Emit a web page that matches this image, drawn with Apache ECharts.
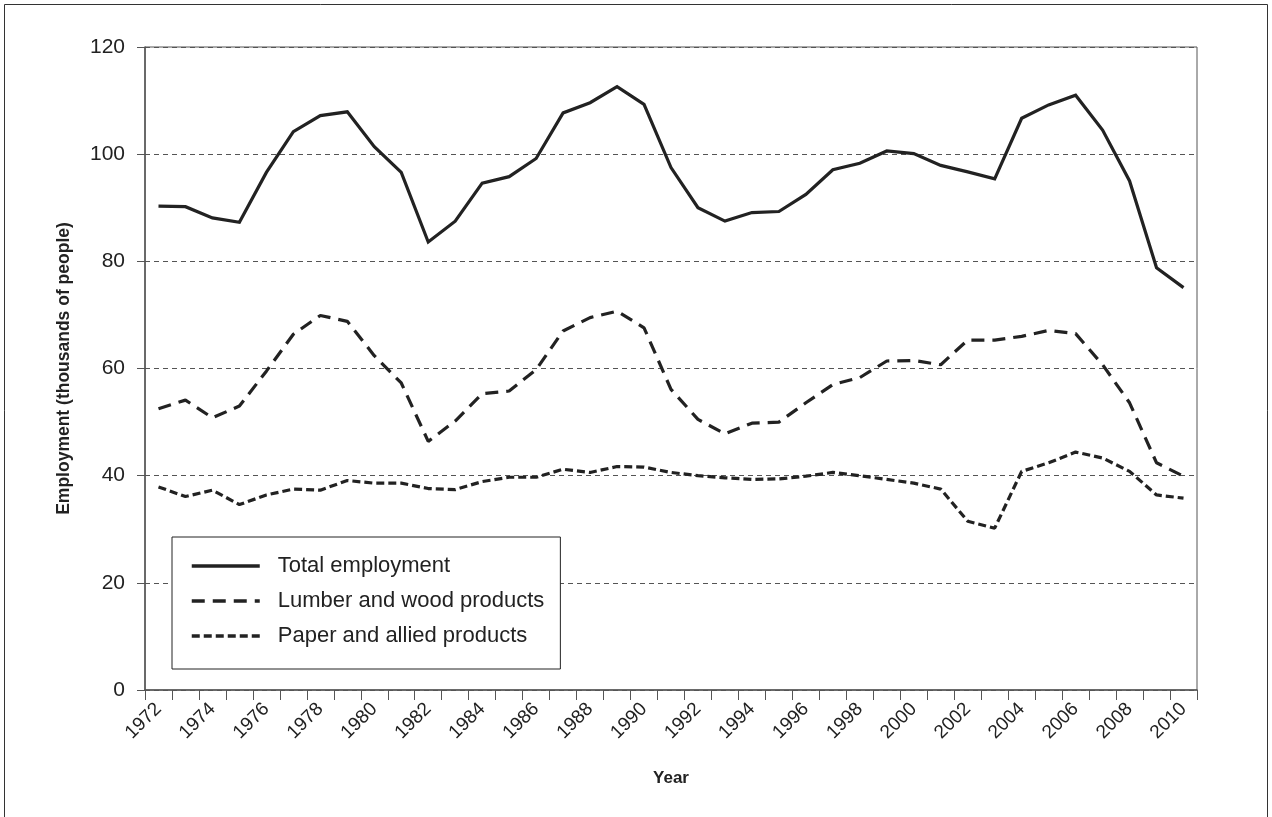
<!DOCTYPE html>
<html>
<head>
<meta charset="utf-8">
<script src="https://cdn.jsdelivr.net/npm/echarts@6/dist/echarts.min.js"></script>
<style>
html,body{margin:0;padding:0;background:#fff;}
#chart{width:1272px;height:817px;}
</style>
</head>
<body>
<div id="chart"></div>
<script>
var years = ['1972','1973','1974','1975','1976','1977','1978','1979','1980','1981','1982','1983','1984','1985','1986','1987','1988','1989','1990','1991','1992','1993','1994','1995','1996','1997','1998','1999','2000','2001','2002','2003','2004','2005','2006','2007','2008','2009','2010'];
var totalEmployment = [90.3,90.2,88.1,87.3,96.6,104.2,107.2,107.9,101.4,96.6,83.6,87.5,94.6,95.8,99.2,107.7,109.6,112.6,109.3,97.5,90.0,87.5,89.1,89.3,92.5,97.1,98.3,100.6,100.1,97.9,96.7,95.4,106.7,109.2,111.0,104.5,95.0,78.8,75.1];
var lumberWood = [52.5,54.1,50.8,53.0,59.5,66.4,69.9,68.8,62.4,57.3,46.4,50.2,55.3,55.8,59.8,67.0,69.5,70.7,67.6,56.1,50.5,47.8,49.8,50.0,53.6,57.0,58.3,61.4,61.5,60.7,65.3,65.3,66.0,67.1,66.5,60.7,53.6,42.4,39.9];
var paperAllied = [37.9,36.1,37.3,34.6,36.4,37.5,37.3,39.1,38.6,38.6,37.6,37.4,38.9,39.7,39.7,41.2,40.6,41.7,41.6,40.6,40.0,39.6,39.3,39.4,39.9,40.6,40.0,39.3,38.6,37.5,31.5,30.2,40.8,42.4,44.4,43.3,40.8,36.4,35.8];
var yTicks = [0,20,40,60,80,100,120];

var chart = echarts.init(document.getElementById('chart'), null, {renderer:'canvas'});
var font = 'Liberation Sans, Arial, Helvetica, sans-serif';
var ink = '#222';
chart.setOption({
  animation:false,
  backgroundColor:'#fff',
  graphic:[
    {type:'line', shape:{x1:4.5,y1:4.5,x2:1267.5,y2:4.5}, style:{stroke:'#333',lineWidth:1}},
    {type:'line', shape:{x1:4.5,y1:4.5,x2:4.5,y2:817}, style:{stroke:'#333',lineWidth:1}},
    {type:'line', shape:{x1:1267.5,y1:4.5,x2:1267.5,y2:817}, style:{stroke:'#333',lineWidth:1}}
  ],
  grid:{left:145,right:75,top:47,bottom:127,show:true,borderColor:'#555',borderWidth:1,backgroundColor:'transparent'},
  legend:{
    orient:'vertical', left:172, top:537,
    padding:[18,16,22,18],
    itemWidth:68, itemHeight:14, itemGap:13,
    borderColor:'#222', borderWidth:1, backgroundColor:'#fff',
    itemStyle:{opacity:0, borderWidth:0},
    lineStyle:{width:3.5},
    textStyle:{fontFamily:font,fontSize:22,color:ink,padding:[0,0,0,13]},
    data:['Total employment','Lumber and wood products','Paper and allied products']
  },
  xAxis:{
    type:'category', data:years, boundaryGap:true,
    name:'Year', nameLocation:'middle', nameGap:80,
    nameTextStyle:{fontFamily:font,fontSize:17,fontWeight:'bold',color:ink},
    axisLine:{lineStyle:{color:'#555',width:1.5}},
    axisTick:{show:true,interval:0,length:10,alignWithLabel:false,lineStyle:{color:'#555'}},
    axisLabel:{interval:1,rotate:45,margin:16,fontFamily:font,fontSize:19,color:ink},
    splitLine:{show:false}
  },
  yAxis:{
    type:'value', min:0, max:120, interval:20,
    name:'Employment (thousands of people)', nameLocation:'middle', nameGap:72,
    nameTextStyle:{fontFamily:font,fontSize:17.5,fontWeight:'bold',color:ink},
    axisLine:{show:true,lineStyle:{color:'#555',width:1.5}},
    axisTick:{show:true,length:8,lineStyle:{color:'#555'}},
    axisLabel:{margin:20,fontFamily:font,fontSize:21,color:ink,
      formatter:function(v){return yTicks.indexOf(v)>=0?String(v):'';}},
    splitLine:{show:true,lineStyle:{color:'#555',width:1,type:[5,4]}}
  },
  series:[
    {name:'Total employment', type:'line', data:totalEmployment, symbol:'none',
     lineStyle:{color:ink,width:3.2,type:'solid',join:'miter'}, itemStyle:{color:ink}},
    {name:'Lumber and wood products', type:'line', data:lumberWood, symbol:'none',
     lineStyle:{color:ink,width:3.2,type:[13,8]}, itemStyle:{color:ink}},
    {name:'Paper and allied products', type:'line', data:paperAllied, symbol:'none',
     lineStyle:{color:ink,width:3.2,type:[8,4]}, itemStyle:{color:ink}}
  ]
});
</script>
</body>
</html>
